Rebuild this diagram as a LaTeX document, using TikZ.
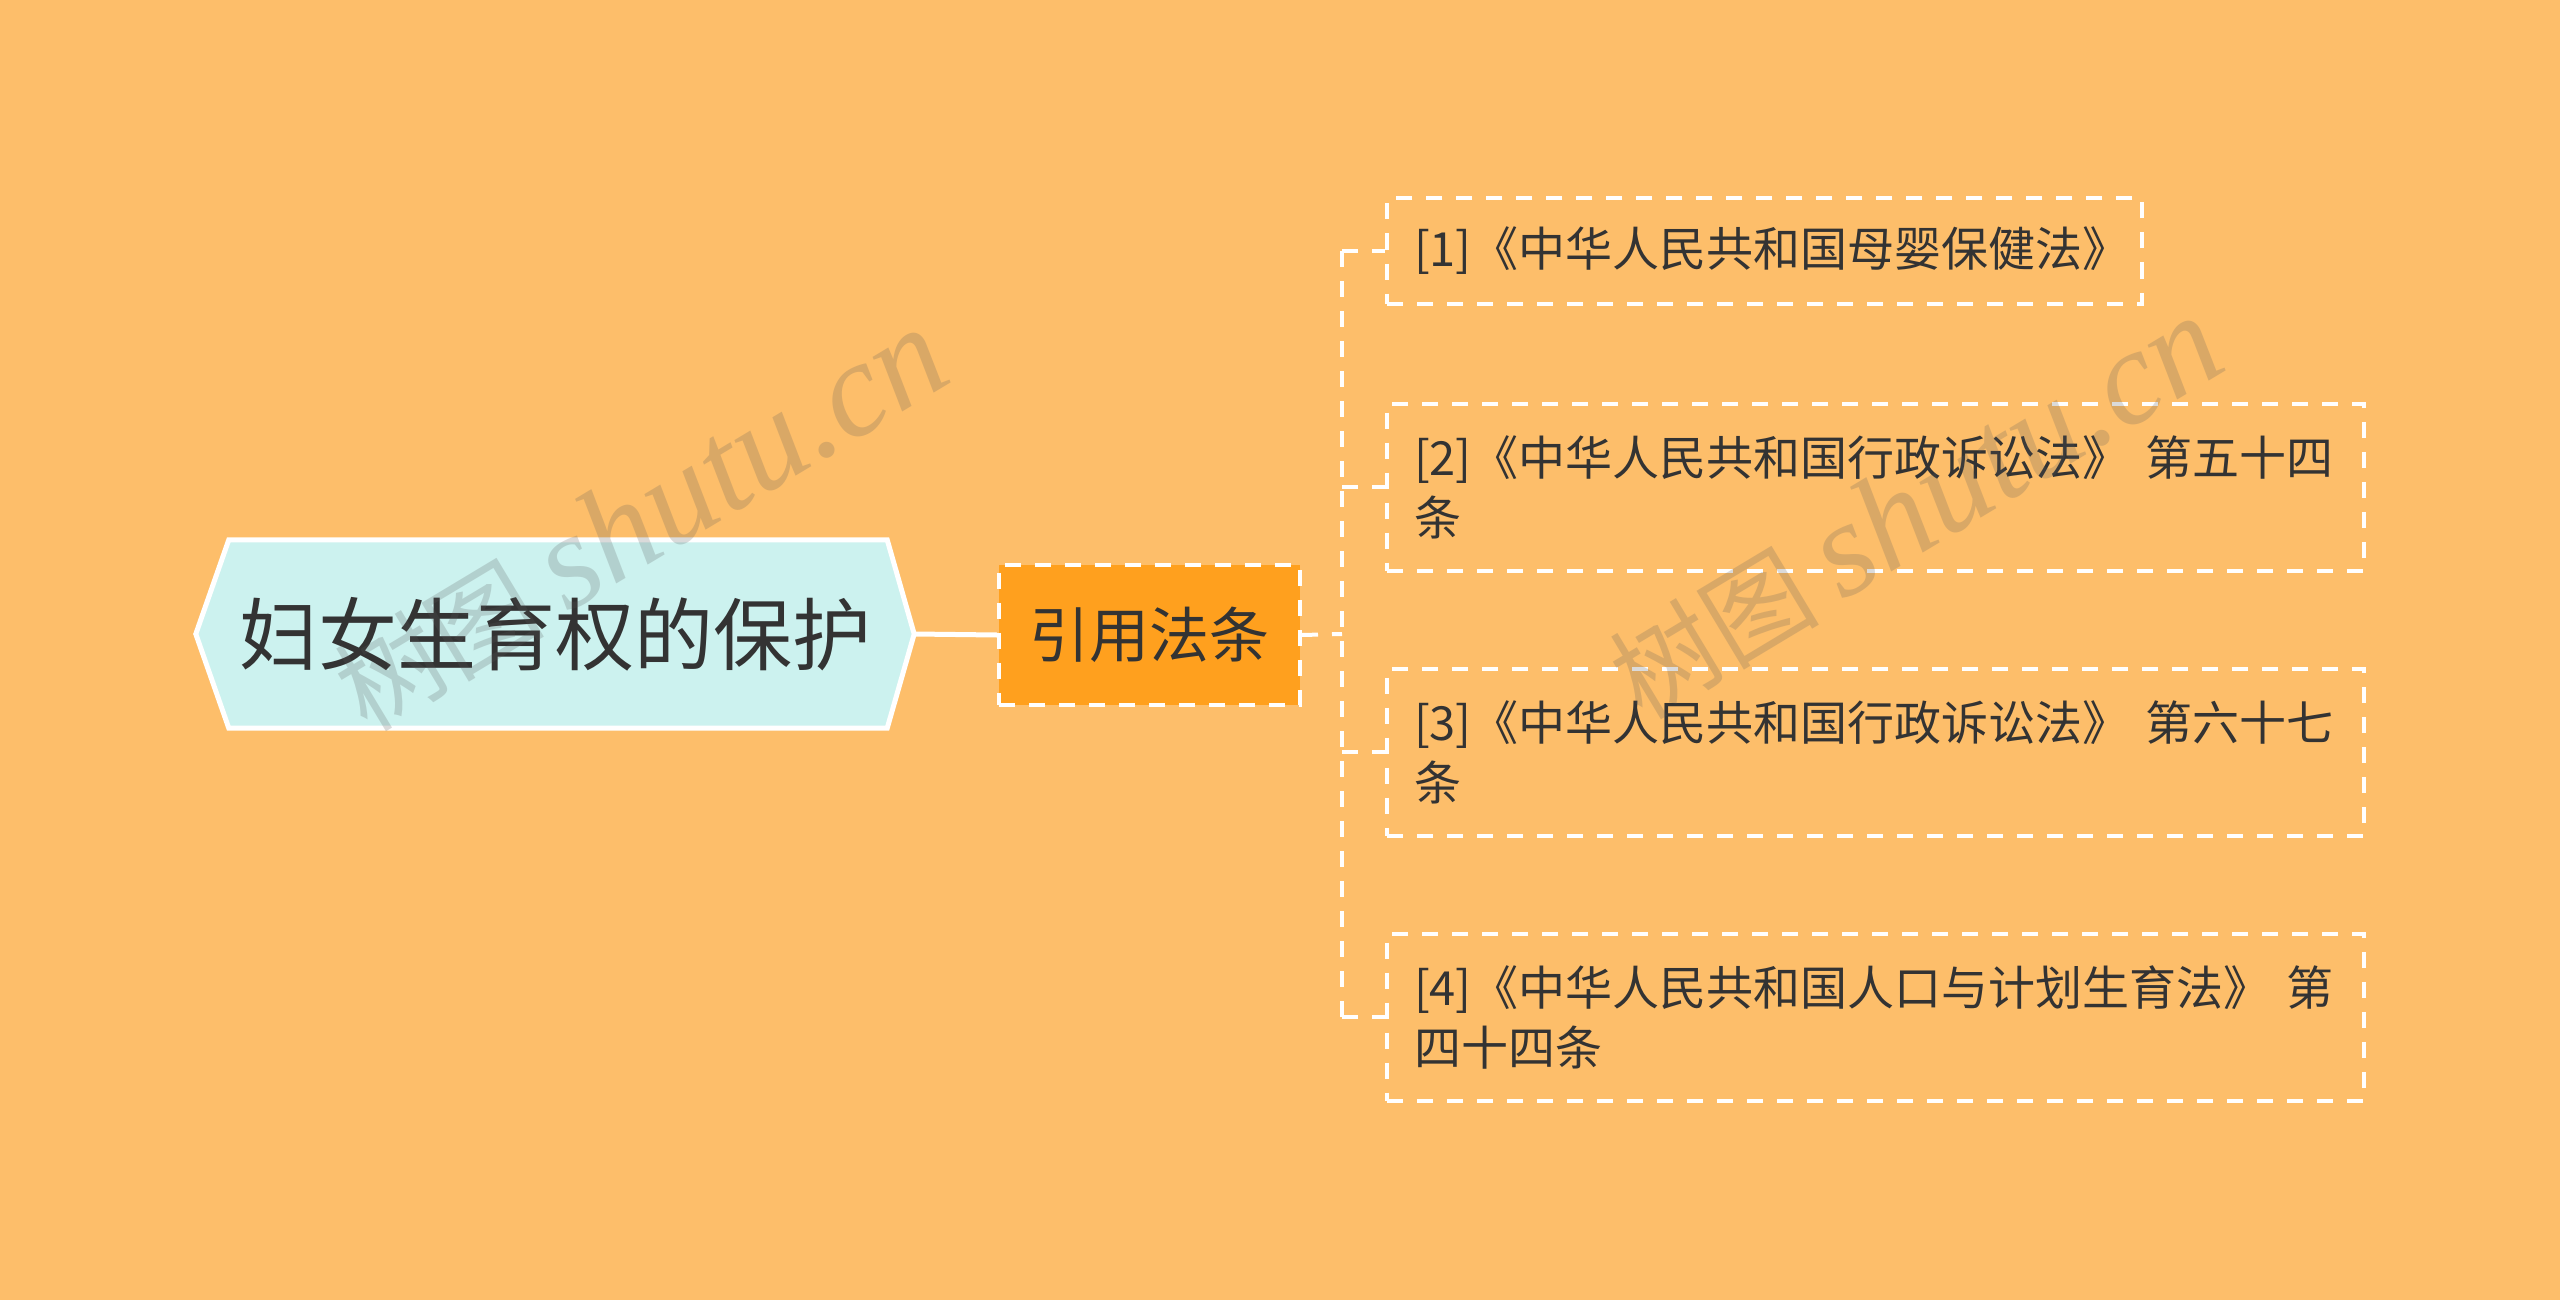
\documentclass[tikz,border=0pt]{standalone}
\usepackage{fontspec}
\newfontfamily\cjk{Noto Sans CJK SC}
\newfontfamily\wmserif{Liberation Serif}
\definecolor{bg}{HTML}{FDBE6A}
\definecolor{hexfill}{HTML}{CCF2EF}
\definecolor{midfill}{HTML}{FFA01E}
\definecolor{txt}{HTML}{333333}
\definecolor{wm}{HTML}{5A5A5A}
\pgfdeclarelayer{bgl}
\pgfdeclarelayer{shapes}
\pgfsetlayers{bgl,shapes,main}
\tikzset{
  rootbox/.style={minimum width=718pt, minimum height=188pt, inner sep=0pt, text=txt, font=\cjk\fontsize{79}{90}\selectfont},
  midbox/.style={minimum width=301pt, minimum height=140pt, inner sep=0pt, fill=midfill, draw=white, line width=4pt, dash pattern=on 16pt off 14pt, text=txt, font=\cjk\fontsize{60}{70}\selectfont},
  leafbox/.style={anchor=west, draw=white, line width=4pt, dash pattern=on 16pt off 14pt, inner xsep=27pt, inner ysep=0pt, align=left, text=txt, font=\cjk\fontsize{47}{60}\selectfont},
  solidlink/.style={white, line width=5pt},
  dashlink/.style={white, line width=4pt, dash pattern=on 16pt off 14pt},
  wmark/.style={text=wm, opacity=0.22, rotate=31}
}
\begin{document}
\begin{tikzpicture}[x=1pt,y=-1pt]
\begin{pgfonlayer}{bgl}
\fill[bg] (0,0) rectangle (2560,1300);
\end{pgfonlayer}
\useasboundingbox (0,0) rectangle (2560,1300);

\node[rootbox] (root) at (555,634) {妇女生育权的保护};
\begin{pgfonlayer}{shapes}
\draw[white, line width=5pt, fill=hexfill, line join=miter]
  (root.west) -- ([xshift=33pt]root.north west) -- ([xshift=-27pt]root.north east)
  -- (root.east) -- ([xshift=-27pt]root.south east) -- ([xshift=33pt]root.south west) -- cycle;
\end{pgfonlayer}

\node[midbox] (mid) at (1149.5,635) {引用法条};

\node[leafbox, minimum width=755pt, minimum height=105pt, text width=701pt] (l1) at (1385,251)
  {\mbox{[1]《中华人民共和国母婴保健法》}};
\node[leafbox, minimum width=977pt, minimum height=167pt, text width=923pt] (l2) at (1385,487)
  {\mbox{[2]《中华人民共和国行政诉讼法》 第五十四}\\条};
\node[leafbox, minimum width=977pt, minimum height=167pt, text width=923pt] (l3) at (1385,752)
  {\mbox{[3]《中华人民共和国行政诉讼法》 第六十七}\\条};
\node[leafbox, minimum width=977pt, minimum height=167pt, text width=923pt] (l4) at (1385,1017)
  {\mbox{[4]《中华人民共和国人口与计划生育法》 第}\\四十四条};

\coordinate (j0) at (1342,634);
\coordinate (j1) at (1342,251);
\coordinate (j4) at (1342,1017);

\draw[solidlink] (root.east) -- (mid.west);
\draw[dashlink] (mid.east) -- (j0);
\draw[dashlink] (j1) -- (j4);
\draw[dashlink] (j1) -- (l1.west);
\draw[dashlink] (1342,487) -- (l2.west);
\draw[dashlink] (1342,752) -- (l3.west);
\draw[dashlink] (j4) -- (l4.west);

\node[wmark] (wm1) at (640,520) {\cjk\fontsize{105}{110}\selectfont 树图\ \wmserif\itshape\fontsize{135}{140}\selectfont shutu.cn};
\node[wmark] (wm2) at (1915,508) {\cjk\fontsize{105}{110}\selectfont 树图\ \wmserif\itshape\fontsize{135}{140}\selectfont shutu.cn};
\end{tikzpicture}
\end{document}
